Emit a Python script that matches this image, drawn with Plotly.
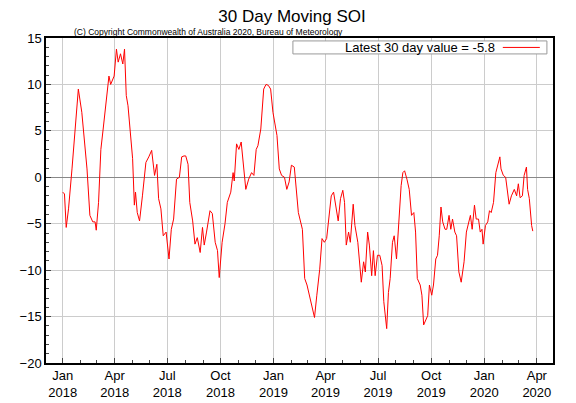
import plotly.graph_objects as go

dates = [
"2018-01-01","2018-01-04","2018-01-07","2018-01-11","2018-01-17","2018-01-23","2018-01-28","2018-02-03","2018-02-07","2018-02-12",
"2018-02-17","2018-02-22","2018-02-26","2018-02-28","2018-03-04","2018-03-08","2018-03-12","2018-03-17","2018-03-22","2018-03-25",
"2018-03-31","2018-04-04","2018-04-07","2018-04-11","2018-04-15","2018-04-18","2018-04-21","2018-04-24","2018-04-27","2018-05-02",
"2018-05-05","2018-05-07","2018-05-10","2018-05-14","2018-05-19","2018-05-25","2018-05-30","2018-06-04","2018-06-09","2018-06-13",
"2018-06-16","2018-06-20","2018-06-24","2018-06-29","2018-07-04","2018-07-08","2018-07-12","2018-07-17","2018-07-22","2018-07-26",
"2018-07-30","2018-08-02","2018-08-06","2018-08-09","2018-08-14","2018-08-18","2018-08-22","2018-08-27","2018-08-31","2018-09-03",
"2018-09-07","2018-09-13","2018-09-17","2018-09-22","2018-09-26","2018-09-29","2018-10-04","2018-10-09","2018-10-13","2018-10-19",
"2018-10-23","2018-10-25","2018-10-29","2018-11-02","2018-11-06","2018-11-10","2018-11-14","2018-11-19","2018-11-24","2018-11-28",
"2018-12-02","2018-12-05","2018-12-10","2018-12-15","2018-12-19","2018-12-23","2018-12-27","2018-12-31","2019-01-04","2019-01-07",
"2019-01-11","2019-01-15","2019-01-20","2019-01-24","2019-01-28","2019-02-01","2019-02-06","2019-02-10","2019-02-13",
"2019-02-20","2019-02-24","2019-02-28","2019-03-04","2019-03-09","2019-03-13","2019-03-17","2019-03-22","2019-03-26","2019-03-30",
"2019-04-03","2019-04-07","2019-04-11","2019-04-15","2019-04-18","2019-04-23","2019-04-27","2019-05-01","2019-05-04","2019-05-07",
"2019-05-11","2019-05-14","2019-05-19","2019-05-22","2019-05-27","2019-05-30","2019-06-02","2019-06-06","2019-06-09","2019-06-13",
"2019-06-16","2019-06-20","2019-06-23","2019-06-26","2019-06-30","2019-07-04","2019-07-08","2019-07-11","2019-07-16","2019-07-19",
"2019-07-22","2019-07-26","2019-07-29","2019-08-02","2019-08-05","2019-08-10","2019-08-13","2019-08-16","2019-08-20","2019-08-24",
"2019-08-28","2019-09-01","2019-09-04","2019-09-07","2019-09-12","2019-09-15","2019-09-18","2019-09-22","2019-09-25","2019-09-28",
"2019-10-02","2019-10-05","2019-10-09","2019-10-12","2019-10-15","2019-10-18","2019-10-21","2019-10-25","2019-10-28","2019-11-01",
"2019-11-04","2019-11-07","2019-11-11","2019-11-14","2019-11-18","2019-11-22","2019-11-27","2019-12-01","2019-12-05","2019-12-08",
"2019-12-11","2019-12-15","2019-12-18","2019-12-22","2019-12-25","2019-12-28","2019-12-30","2020-01-03","2020-01-07","2020-01-10",
"2020-01-13","2020-01-17","2020-01-21","2020-01-25","2020-01-28","2020-01-30","2020-02-03","2020-02-07","2020-02-10","2020-02-13",
"2020-02-17","2020-02-20","2020-02-22","2020-02-26","2020-02-29","2020-03-03","2020-03-07","2020-03-10","2020-03-14","2020-03-16",
"2020-03-19","2020-03-23","2020-03-25"]

soi = [
-1.6,-1.8,-5.4,-3.4,0.9,5.2,9.5,7.0,4.5,0.9,
-4.1,-4.8,-4.8,-5.7,-2.7,3.0,5.2,8.1,10.9,10.0,
10.9,13.8,12.4,13.3,12.2,13.8,8.8,7.7,5.2,2.0,
-3.0,-1.6,-3.8,-4.7,-2.0,1.6,2.2,2.9,0.2,1.4,
-2.3,-3.4,-6.3,-5.9,-8.8,-5.6,-4.5,-0.2,0.0,2.2,
2.3,2.3,1.4,-2.7,-4.7,-7.2,-6.5,-8.1,-5.4,-7.3,
-5.9,-3.6,-3.9,-7.0,-7.9,-10.8,-7.0,-5.0,-2.7,-1.6,
0.5,-0.4,3.6,3.0,3.8,1.6,-1.3,-0.2,0.5,0.2,
3.0,3.4,5.2,9.5,10.0,9.9,9.5,7.0,5.7,4.5,
0.9,0.2,0.0,-1.3,-0.5,1.3,1.1,-1.3,-3.8,
-5.6,-10.9,-11.6,-12.7,-13.8,-15.1,-12.7,-9.9,-6.6,-7.0,
-6.6,-4.5,-2.0,-1.6,-2.7,-4.7,-2.3,-1.4,-2.7,-7.3,
-5.9,-7.0,-2.9,-5.2,-7.0,-9.1,-11.3,-9.1,-10.2,-5.9,
-7.3,-10.6,-7.9,-10.6,-8.4,-8.4,-9.5,-13.4,-16.3,-12.4,
-10.9,-7.0,-6.3,-8.8,-5.6,-0.9,0.5,0.7,-0.2,-1.3,
-4.1,-3.8,-5.9,-10.9,-11.6,-12.7,-15.9,-15.2,-14.9,-11.6,
-12.7,-11.6,-8.8,-8.4,-6.3,-3.2,-4.8,-5.6,-5.6,-4.1,
-5.6,-4.5,-5.9,-6.3,-10.2,-11.3,-9.1,-5.9,-4.8,-4.1,
-5.6,-3.0,-4.5,-4.5,-5.9,-5.6,-7.2,-5.2,-4.8,-3.6,
-3.8,-2.7,0.5,1.6,2.2,0.9,0.2,0.0,-1.3,-2.9,
-2.0,-1.6,-1.3,-2.0,-0.7,-2.2,-2.0,0.2,1.1,-1.3,
-2.3,-5.2,-5.8]

tick_vals = ["2018-01-01","2018-04-01","2018-07-01","2018-10-01","2019-01-01","2019-04-01",
             "2019-07-01","2019-10-01","2020-01-01","2020-04-01"]
tick_text = ["Jan<br>2018","Apr<br>2018","Jul<br>2018","Oct<br>2018","Jan<br>2019","Apr<br>2019",
             "Jul<br>2019","Oct<br>2019","Jan<br>2020","Apr<br>2020"]
legend_text = "Latest 30 day value = -5.8"

fig = go.Figure(go.Scatter(x=dates, y=soi, mode="lines", line=dict(color="red", width=1), showlegend=False))
fig.update_layout(
    width=568, height=395, margin=dict(l=38, r=23, t=30, b=40, autoexpand=False),
    plot_bgcolor="white", paper_bgcolor="white",
    font=dict(family="Liberation Sans, Arial", size=13, color="black"),
    title=dict(text="30 Day Moving SOI", x=0.5, xanchor="center", y=0.995, yanchor="top",
               font=dict(size=17), automargin=False),
)
fig.update_xaxes(range=["2017-12-03", "2020-04-29"], tickvals=tick_vals, ticktext=tick_text,
                 automargin=False,
                 showgrid=True, gridcolor="#cccccc", gridwidth=1, showline=True, linecolor="black",
                 linewidth=1.5, mirror=True, ticks="inside", ticklen=5,
                 minor=dict(dtick="M1", ticks="inside", ticklen=3, showgrid=False))
fig.update_yaxes(range=[-20, 15], dtick=5, showgrid=True, gridcolor="#cccccc", gridwidth=1,
                 automargin=False,
                 zeroline=True, zerolinecolor="#888888", zerolinewidth=1,
                 showline=True, linecolor="black", linewidth=1.5, mirror=True,
                 ticks="inside", ticklen=5,
                 minor=dict(dtick=1, ticks="inside", ticklen=3, showgrid=False))
fig.add_annotation(text="(C) Copyright Commonwealth of Australia 2020, Bureau of Meteorology",
                   xref="paper", yref="paper", x=0.051, y=0.998, xanchor="left", yanchor="bottom",
                   showarrow=False, font=dict(size=8.5))
fig.add_shape(type="rect", xref="paper", yref="paper", x0=0.487, x1=0.988, y0=0.951, y1=0.991,
              line=dict(color="#999999", width=1), fillcolor="white")
fig.add_annotation(text=legend_text, xref="paper", yref="paper", x=0.889, y=0.971,
                   xanchor="right", yanchor="middle", showarrow=False, font=dict(size=13))
fig.add_shape(type="line", xref="paper", yref="paper", x0=0.901, x1=0.974, y0=0.971, y1=0.971,
              line=dict(color="red", width=1))
fig.write_html("out.html")
